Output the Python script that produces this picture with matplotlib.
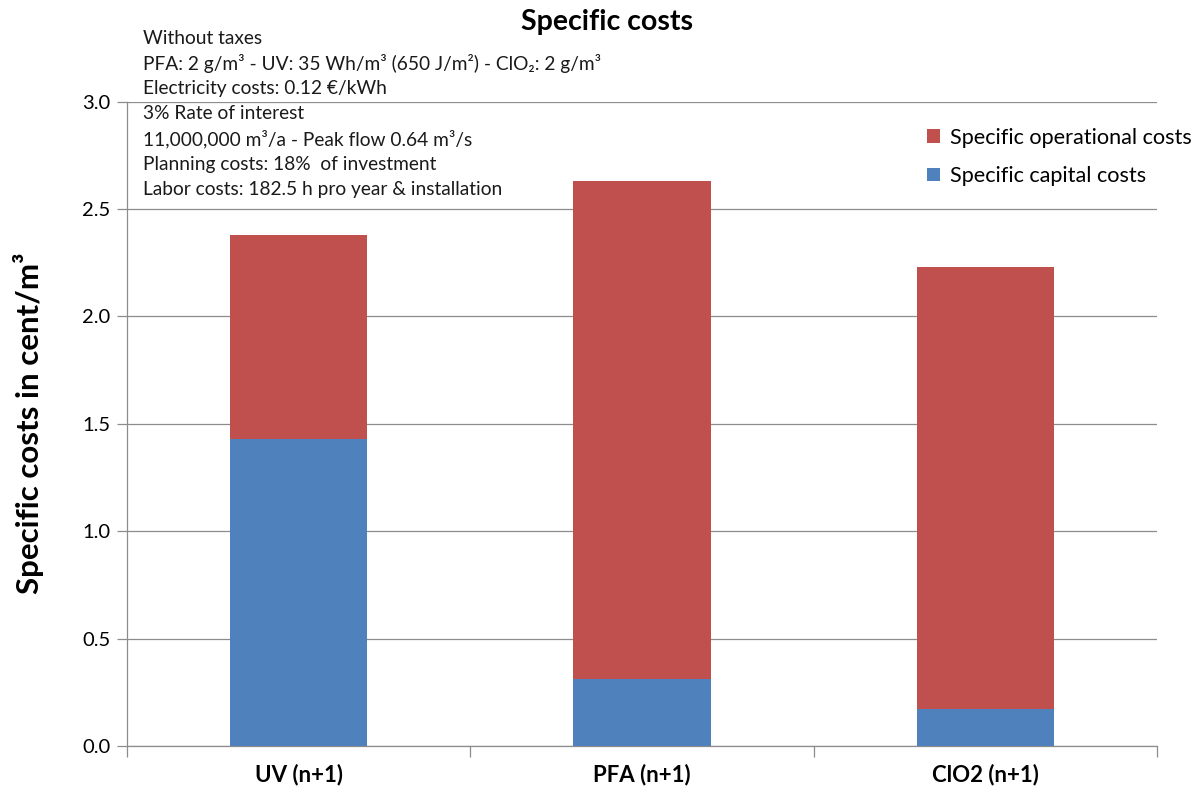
import matplotlib
matplotlib.use("Agg")
import matplotlib.pyplot as plt
import numpy as np

plt.rcParams['font.family'] = ['Lato', 'DejaVu Sans']

categories = ["UV (n+1)", "PFA (n+1)", "ClO2 (n+1)"]
capital_costs = [1.43, 0.31, 0.17]
operational_costs = [0.95, 2.32, 2.06]
y_ticks = [0.0, 0.5, 1.0, 1.5, 2.0, 2.5, 3.0]

notes = [
    "Without taxes",
    "PFA: 2 g/m³ - UV: 35 Wh/m³ (650 J/m²) - ClO₂: 2 g/m³",
    "Electricity costs: 0.12 €/kWh",
    "3% Rate of interest",
    "11,000,000 m³/a - Peak flow 0.64 m³/s",
    "Planning costs: 18%  of investment",
    "Labor costs: 182.5 h pro year & installation",
]

blue = "#4F81BD"
red = "#C0504D"
grid_col = "#8C8C8C"

fig = plt.figure(figsize=(12.03, 7.92), dpi=100)
ax = fig.add_axes([0.1056, 0.0581, 0.8562, 0.8136])

x = np.arange(len(categories))
ax.bar(x, capital_costs, width=0.4, color=blue, label="Specific capital costs", zorder=3)
ax.bar(x, operational_costs, width=0.4, bottom=capital_costs, color=red,
       label="Specific operational costs", zorder=3)

ax.set_xlim(-0.5, len(categories) - 0.5)
ax.set_ylim(0, 3.0)
ax.set_yticks(y_ticks)
ax.set_yticklabels([f"{v:.1f}" for v in y_ticks], fontsize=14.5)
ax.yaxis.grid(True, color=grid_col, linewidth=0.9, zorder=0)
ax.set_axisbelow(True)

ax.set_xticks(x)
ax.set_xticklabels(categories, fontsize=16, fontweight="bold")
ax.set_xticks(np.arange(-0.5, len(categories), 1.0), minor=True)
ax.tick_params(axis="x", which="major", length=0, pad=13)
ax.tick_params(axis="x", which="minor", length=8, color=grid_col, width=0.9)
ax.tick_params(axis="y", length=7, color=grid_col, width=0.9, pad=5)

for s in ["top", "right"]:
    ax.spines[s].set_visible(False)
for s in ["left", "bottom"]:
    ax.spines[s].set_color(grid_col)
    ax.spines[s].set_linewidth(0.9)

fig.text(29 / 1203, 1 - 423 / 792, "Specific costs in cent/m³", rotation=90,
         ha="center", va="center", fontsize=22.5, fontweight="bold")
fig.text(607 / 1203, 1 - 22 / 792, "Specific costs", ha="center", va="center",
         fontsize=20.5, fontweight="bold")

for i, line in enumerate(notes):
    fig.text(143 / 1203, 1 - (38 + i * 25.3) / 792, line, ha="left", va="center",
             fontsize=13.8, color="#1a1a1a")

handles, labels = ax.get_legend_handles_labels()
ax.legend(handles[::-1], labels[::-1], loc="upper left",
          bbox_to_anchor=(918 / 1203, 1 - 119 / 792), bbox_transform=fig.transFigure,
          frameon=False, fontsize=15.6, handlelength=0.6, handleheight=0.6,
          handletextpad=0.5, labelspacing=0.85, borderaxespad=0)

fig.savefig("out.png", dpi=100)
